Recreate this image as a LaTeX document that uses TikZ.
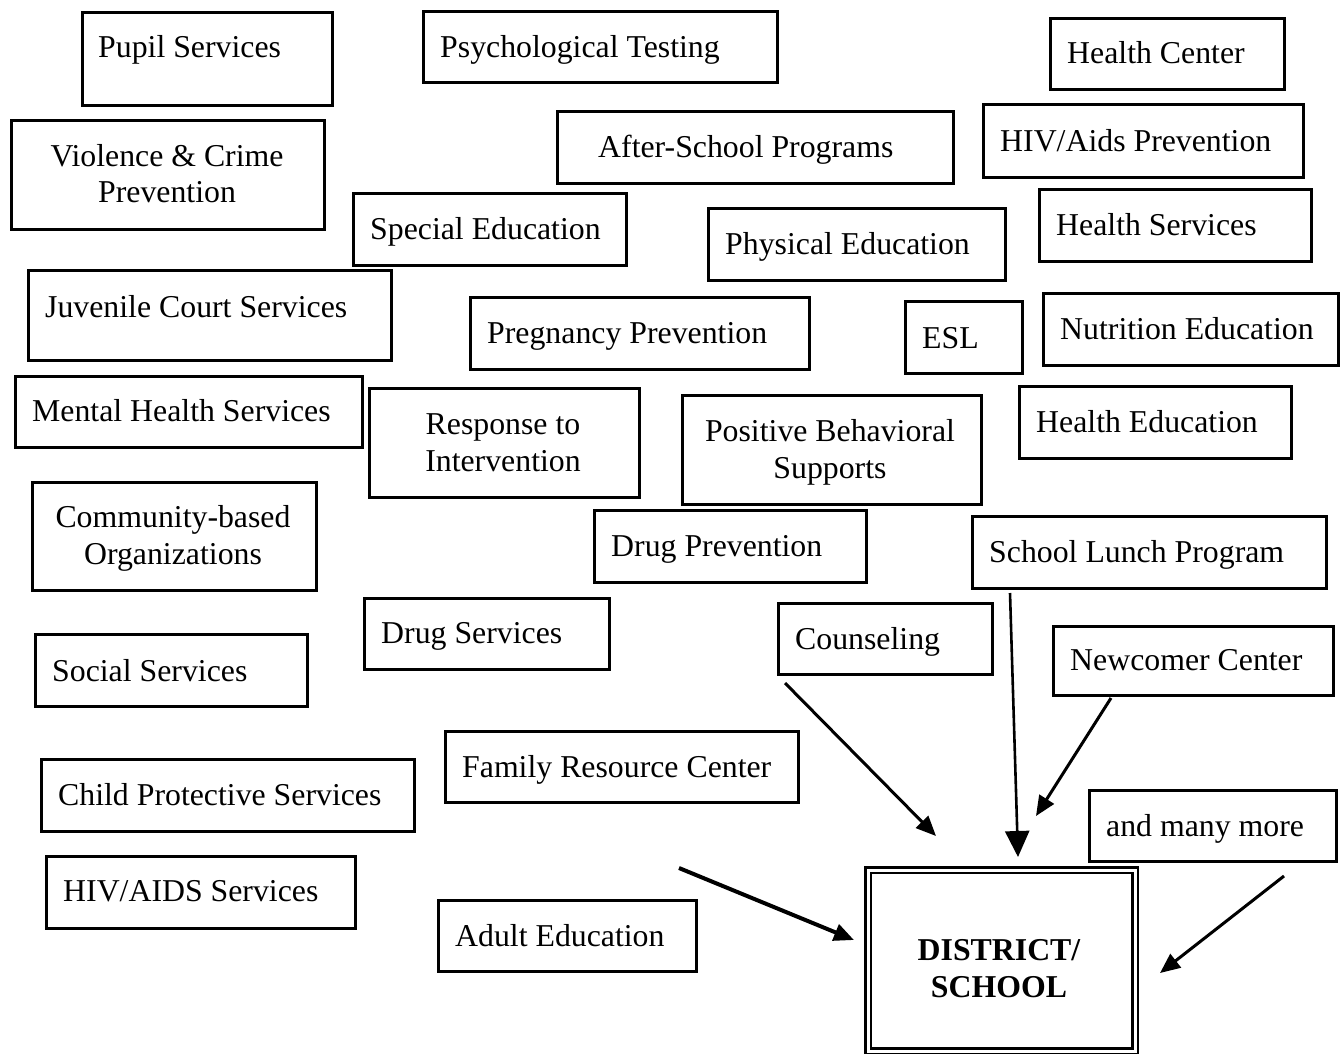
\documentclass[tikz,border=0pt]{standalone}
\usepackage{fontspec}
\setmainfont{Liberation Serif}
\usetikzlibrary{arrows.meta}
\tikzset{
  box/.style={draw=black, line width=2.6pt, anchor=north west, inner sep=0pt, fill=none},
  lbl/.style={inner sep=0pt, font=\fontsize{31.8}{36.5}\selectfont},
  ctr/.style={lbl, anchor=base},
  lft/.style={lbl, anchor=base west},
  arr/.style={line width=3pt, -{Triangle[length=20pt,width=17pt]}},
  bigarr/.style={line width=2.6pt, -{Triangle[length=26pt,width=24pt]}},
  dbox/.style={draw=black, double=white, line width=2.4pt, double distance=3.2pt, anchor=north west, inner sep=0pt}
}
\newcommand\servbox[5]{%
  \node[box, minimum width={#4-#2}, minimum height={#5-#3}] (#1) at (#2,#3) {};}
\begin{document}
\begin{tikzpicture}[x=1pt,y=-1pt]
\useasboundingbox (0,0) rectangle (1343,1053);
% boxes
\servbox{pupil}{81}{11}{331}{104}
\node[lft] (pupilt) at (98,57) {Pupil Services};
\servbox{psych}{422}{10}{776}{81}
\node[lft] (psycht) at (440,57) {Psychological Testing};
\servbox{hcenter}{1049}{17}{1283}{88}
\node[lft] (hcentert) at (1067,63) {Health Center};
\servbox{violence}{10}{119}{323}{228}
\node[ctr] (violencet1) at (167,166) {Violence \& Crime};
\node[ctr] (violencet2) at (167,202) {Prevention};
\servbox{after}{556}{110}{952}{182}
\node[lft] (aftert) at (598,157) {After-School Programs};
\servbox{hivp}{982}{103}{1302}{176}
\node[lft] (hivpt) at (1000,151) {HIV/Aids Prevention};
\servbox{special}{352}{192}{625}{264}
\node[lft] (specialt) at (370,239) {Special Education};
\servbox{physical}{707}{207}{1004}{279}
\node[lft] (physicalt) at (725,254) {Physical Education};
\servbox{hservices}{1038}{188}{1310}{260}
\node[lft] (hservicest) at (1056,235) {Health Services};
\servbox{juvenile}{27}{269}{390}{359}
\node[lft] (juvenilet) at (45,317) {Juvenile Court Services};
\servbox{pregnancy}{469}{296}{808}{368}
\node[lft] (pregnancyt) at (487,343) {Pregnancy Prevention};
\servbox{esl}{904}{300}{1021}{372}
\node[lft] (eslt) at (922,348) {ESL};
\servbox{nutrition}{1042}{292}{1337}{364}
\node[lft] (nutritiont) at (1060,339) {Nutrition Education};
\servbox{mental}{14}{375}{361}{446}
\node[lft] (mentalt) at (32,421) {Mental Health Services};
\servbox{response}{368}{387}{638}{496}
\node[ctr] (responset1) at (503,434) {Response to};
\node[ctr] (responset2) at (503,471) {Intervention};
\servbox{pbs}{681}{394}{980}{503}
\node[ctr] (pbst1) at (830,441) {Positive Behavioral};
\node[ctr] (pbst2) at (830,478) {Supports};
\servbox{healthed}{1018}{385}{1290}{457}
\node[lft] (healthedt) at (1036,432) {Health Education};
\servbox{community}{31}{481}{315}{589}
\node[ctr] (communityt1) at (173,527) {Community-based};
\node[ctr] (communityt2) at (173,564) {Organizations};
\servbox{drugprev}{593}{509}{865}{581}
\node[lft] (drugprevt) at (611,556) {Drug Prevention};
\servbox{lunch}{971}{515}{1325}{587}
\node[lft] (luncht) at (989,562) {School Lunch Program};
\servbox{drugserv}{363}{597}{608}{668}
\node[lft] (drugservt) at (381,643) {Drug Services};
\servbox{counsel}{777}{602}{991}{673}
\node[lft] (counselt) at (795,649) {Counseling};
\servbox{social}{34}{633}{306}{705}
\node[lft] (socialt) at (52,681) {Social Services};
\servbox{newcomer}{1052}{625}{1332}{694}
\node[lft] (newcomert) at (1070,670) {Newcomer Center};
\servbox{family}{444}{730}{797}{801}
\node[lft] (familyt) at (462,777) {Family Resource Center};
\servbox{child}{40}{758}{413}{830}
\node[lft] (childt) at (58,805) {Child Protective Services};
\servbox{more}{1088}{789}{1335}{860}
\node[lft] (moret) at (1106,836) {and many more};
\servbox{hivs}{45}{855}{354}{927}
\node[lft] (hivst) at (63,901) {HIV/AIDS Services};
\servbox{adult}{437}{899}{695}{970}
\node[lft] (adultt) at (455,946) {Adult Education};
% district box
\node[dbox, minimum width=267, minimum height=181] (district) at (867,869) {};
\node[ctr, font=\fontsize{31.8}{36.5}\selectfont\bfseries] (districtt1) at (999,960) {DISTRICT/};
\node[ctr, font=\fontsize{31.8}{36.5}\selectfont\bfseries] (districtt2) at (999,997) {SCHOOL};
% arrow endpoints
\coordinate (c1) at (785,683);  \coordinate (c2) at (936,836);
\coordinate (l1) at (1010,593); \coordinate (l2) at (1018,857);
\coordinate (n1) at (1111,698); \coordinate (n2) at (1036,816);
\coordinate (m1) at (1284,876); \coordinate (m2) at (1160,973);
\coordinate (a1) at (679,868);  \coordinate (a2) at (854,940);
\draw[arr] (c1) -- (c2);
\draw[bigarr] (l1) -- (l2);
\draw[arr] (n1) -- (n2);
\draw[arr] (m1) -- (m2);
\draw[arr, line width=4pt] (a1) -- (a2);
\end{tikzpicture}
\end{document}
